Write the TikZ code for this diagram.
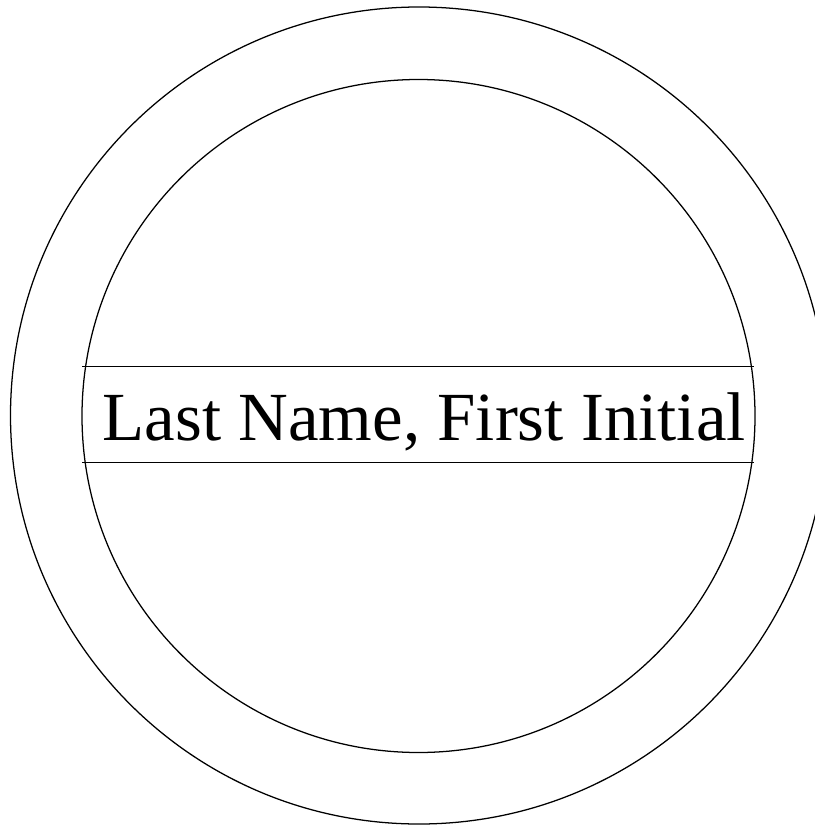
\documentclass[tikz,border=0pt]{standalone}
\usepackage{fontspec}
\setmainfont{Liberation Serif}
\begin{document}
\begin{tikzpicture} [x = 0.025cm, y = -0.025cm, line width = 0.9pt]
	\useasboundingbox (0,0) rectangle (814,827);
	\draw (419,415.5) circle (408.5);
	\draw (418.5,416) circle (336.5);
	\draw (82,366.7) -- (754,366.7);
	\draw (82,462.7) -- (754,462.7);
	\node [anchor = base, inner sep = 0pt, font = \fontsize{49}{59}\selectfont] (name) at (424.2,440) {Last Name, First Initial};
	\end{tikzpicture}
\end{document}
